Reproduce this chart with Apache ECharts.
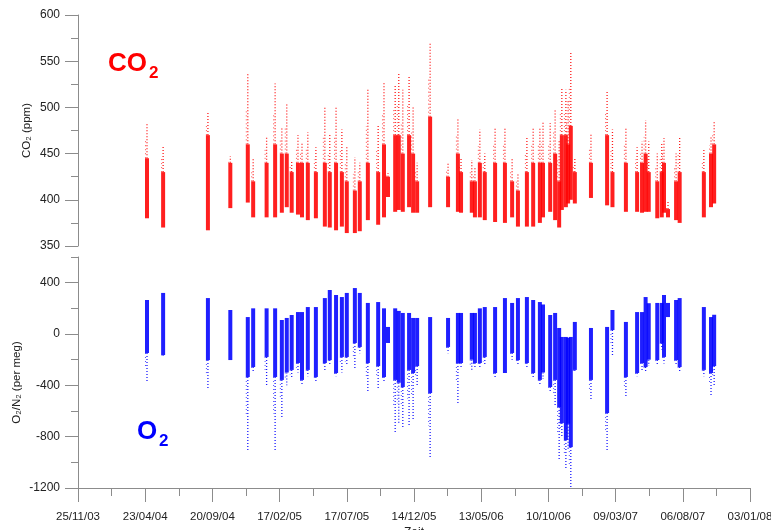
<!DOCTYPE html>
<html>
<head>
<meta charset="utf-8">
<script src="https://cdn.jsdelivr.net/npm/echarts@6/dist/echarts.min.js"></script>
<style>html,body{margin:0;padding:0;background:#fff}#c{width:771px;height:530px}</style>
</head>
<body>
<div id="c"></div>
<script>
// ---- data ----
const startDate = '2003-11-25';
const xTickLabels = ['25/11/03','23/04/04','20/09/04','17/02/05','17/07/05','14/12/05','13/05/06','10/10/06','09/03/07','06/08/07','03/01/08'];
const co2TickLabels = [350, 400, 450, 500, 550, 600];
const o2TickLabels = [-1200, -800, -400, 0, 400];

const dates = ['2004-04-27','2004-06-02','2004-09-10','2004-10-30','2004-12-08','2004-12-20','2005-01-19','2005-02-07','2005-02-22','2005-03-05',
'2005-03-16','2005-03-30','2005-04-08','2005-04-21','2005-05-09','2005-05-29','2005-06-09','2005-06-23','2005-07-06','2005-07-17',
'2005-08-04','2005-08-15','2005-09-02','2005-09-25','2005-10-08','2005-10-17','2005-11-02','2005-11-10','2005-11-19','2005-12-03',
'2005-12-12','2005-12-21','2006-01-19','2006-02-28','2006-03-22','2006-03-29','2006-04-22','2006-04-29','2006-05-10','2006-05-21',
'2006-06-13','2006-07-05','2006-07-21','2006-08-03','2006-08-23','2006-09-06','2006-09-21','2006-09-28','2006-10-14','2006-10-25',
'2006-11-03','2006-11-09','2006-11-18','2006-11-23','2006-11-29','2006-12-08','2007-01-13','2007-02-18','2007-03-02','2007-04-01',
'2007-04-26','2007-05-07','2007-05-15','2007-05-22','2007-06-10','2007-06-20','2007-06-25','2007-07-04','2007-07-22','2007-07-30',
'2007-09-22','2007-10-08','2007-10-15'];

// CO2 (ppm): lowest value, top of dense band, highest value
const co2Low = [380,370,367,391,397,381,381,381,386,392, 386,384,381,378,380,371,370,367,371,364,
364,366,378,373,381,403,387,389,387,392, 386,386,392,392,387,386,386,381,381,378,
376,375,381,371,371,371,375,381,387,378, 370,389,392,396,400,396,402,394,392,387,
387,386,387,387,380,381,386,381,378,375, 381,392,396];
const co2Core = [445,430,470,440,460,420,440,460,450,450, 430,440,440,440,430,440,430,440,430,420,
410,420,440,430,460,425,470,470,450,470, 450,420,490,425,450,430,420,420,440,430,
440,440,420,410,430,440,440,440,440,450, 420,470,470,460,480,430,440,470,430,440,
430,440,450,430,420,430,440,390,420,430, 430,450,460];
const co2High = [484,459,494,447,538,445,468,526,479,505, 443,470,461,473,457,500,470,500,476,457,
446,440,519,481,527,429,524,538,519,533, 500,440,570,440,488,446,443,436,476,450,
479,479,446,429,468,479,478,484,483,497, 465,522,519,508,560,446,472,517,476,478,
457,463,486,463,450,461,467,398,450,467, 454,468,486];

// O2/N2 (per meg): highest value, bottom of dense band, lowest value
const o2High = [265,320,280,187,132,200,200,200,109,125, 148,171,171,210,210,280,343,304,288,320,
358,320,242,249,200,55,200,180,164,164, 125,125,132,125,164,164,164,164,200,210,
210,280,242,280,288,265,249,230,148,164, 47,-23,-23,-30,-23,94,47,55,187,94,
171,171,288,240,242,242,304,242,265,280, 210,132,150];
const o2Core = [-148,-164,-203,-203,-335,-257,-179,-335,-358,-300, -280,-226,-358,-280,-335,-226,-203,-304,-179,-179,
-70,-101,-226,-250,-335,-70,-358,-380,-413,-280, -304,-250,-460,-101,-226,-226,-200,-226,-226,-179,
-304,-304,-148,-203,-226,-304,-358,-300,-413,-358, -569,-694,-826,-700,-881,-280,-358,-616,31,-335,
-304,-226,-257,-200,-203,-70,-179,132,-203,-257, -280,-304,-250];
const o2Low = [-374,-170,-421,-203,-920,-300,-397,-904,-647,-400, -350,-300,-400,-330,-380,-280,-250,-330,-300,-250,
-280,-150,-460,-436,-380,-70,-771,-700,-725,-725, -670,-400,-966,-150,-538,-260,-280,-260,-270,-250,
-340,-304,-200,-240,-270,-340,-400,-350,-450,-569, -982,-800,-1060,-900,-1192,-300,-514,-904,-180,-491,
-330,-280,-300,-250,-250,-120,-230,132,-250,-290, -330,-491,-400];

// ---- build ----
const DAY = 86400000;
const t0 = Date.parse(startDate + 'T00:00:00Z');
const dayOf = d => Math.round((Date.parse(d + 'T00:00:00Z') - t0) / DAY);
const co2Data = dates.map((d, i) => [dayOf(d), co2Low[i], co2Core[i], co2High[i]]);
const o2Data = dates.map((d, i) => [dayOf(d), o2High[i], o2Core[i], o2Low[i]]);

const RED = '#ff0000', BLUE = '#0000ff';
const AX = '#8c8c8c', TXT = '#222';
const FONT = 'Liberation Sans, Arial, sans-serif';

function streak(color) {
  return function (params, api) {
    const x = api.value(0);
    const a = api.coord([x, api.value(1)]);
    const b = api.coord([x, api.value(2)]);
    const c = api.coord([x, api.value(3)]);
    const px = a[0];
    const top = Math.min(a[1], b[1]), bot = Math.max(a[1], b[1]);
    return {
      type: 'group',
      children: [
        { type: 'line', shape: { x1: px, y1: b[1], x2: px, y2: c[1] },
          style: { stroke: color, lineWidth: 1.3, lineDash: [1, 2], opacity: 0.9 } },
        { type: 'line', shape: { x1: px - 1.5, y1: b[1], x2: px - 1.5, y2: (b[1] + c[1]) / 2 },
          style: { stroke: color, lineWidth: 1, lineDash: [1, 3], opacity: 0.7 } },
        { type: 'rect', shape: { x: px - 2, y: top, width: 4, height: Math.max(1, bot - top) },
          style: { fill: color, opacity: 0.88 } }
      ]
    };
  };
}

const chart = echarts.init(document.getElementById('c'), null, { renderer: 'canvas' });
const axisLineStyle = { show: true, onZero: false, lineStyle: { color: AX, width: 1 } };
chart.setOption({
  animation: false,
  backgroundColor: '#fff',
  textStyle: { fontFamily: FONT },
  grid: [
    { left: 78, width: 672, top: 15, height: 231, containLabel: false, outerBoundsMode: 'none' },
    { left: 78, width: 672, top: 257, height: 231, containLabel: false, outerBoundsMode: 'none' }
  ],
  xAxis: [
    { gridIndex: 0, type: 'value', min: 0, max: 1500, interval: 150, show: false },
    { gridIndex: 1, type: 'value', min: 0, max: 1500, interval: 150, position: 'bottom',
      name: 'Zeit', nameLocation: 'middle', nameGap: 39, nameMoveOverlap: false,
      nameTextStyle: { color: TXT, fontSize: 12, fontFamily: FONT },
      axisLine: axisLineStyle,
      axisTick: { show: true, length: 14, lineStyle: { color: AX } },
      minorTick: { show: true, splitNumber: 2, length: 8, lineStyle: { color: AX } },
      splitLine: { show: false },
      axisLabel: { color: TXT, fontSize: 11.5, margin: 23, fontFamily: FONT,
        formatter: v => xTickLabels[Math.round(v / 150)] || '' } }
  ],
  yAxis: [
    { gridIndex: 0, type: 'value', min: 350, max: 600, interval: 50, position: 'left',
      name: 'CO₂ (ppm)', nameLocation: 'middle', nameGap: 45, nameMoveOverlap: false,
      nameTextStyle: { color: TXT, fontSize: 11.5, fontFamily: FONT },
      axisLine: axisLineStyle,
      axisTick: { show: true, length: 13, lineStyle: { color: AX } },
      minorTick: { show: true, splitNumber: 2, length: 7, lineStyle: { color: AX } },
      splitLine: { show: false },
      axisLabel: { color: TXT, fontSize: 12, margin: 18, fontFamily: FONT,
        formatter: v => co2TickLabels.indexOf(v) >= 0 ? String(v) : '' } },
    { gridIndex: 1, type: 'value', min: -1200, max: 600, interval: 200, position: 'left',
      name: 'O₂/N₂ (per meg)', nameLocation: 'middle', nameGap: 55, nameMoveOverlap: false,
      nameTextStyle: { color: TXT, fontSize: 11.5, fontFamily: FONT, padding: [0, 20, 0, 0] },
      axisLine: axisLineStyle,
      axisTick: { show: true, length: 7, lineStyle: { color: AX } },
      splitLine: { show: false },
      axisLabel: { color: TXT, fontSize: 12, margin: 18, fontFamily: FONT,
        formatter: v => o2TickLabels.indexOf(v) >= 0 ? String(v) : '' } },
    { gridIndex: 1, type: 'value', min: -1200, max: 600, interval: 200, position: 'left', offset: 0,
      axisLine: { show: false, onZero: false },
      axisTick: { show: true, length: 13, lineStyle: { color: AX }, customValues: o2TickLabels },
      splitLine: { show: false },
      axisLabel: { show: false } }
  ],
  graphic: [
    { type: 'text', left: 108, top: 51, style: { text: 'CO', fill: RED, font: 'bold 26px ' + FONT } },
    { type: 'text', left: 149, top: 65, style: { text: '2', fill: RED, font: 'bold 17px ' + FONT } },
    { type: 'text', left: 137, top: 419, style: { text: 'O', fill: BLUE, font: 'bold 26px ' + FONT } },
    { type: 'text', left: 159, top: 433, style: { text: '2', fill: BLUE, font: 'bold 17px ' + FONT } }
  ],
  series: [
    { type: 'custom', name: 'CO2', xAxisIndex: 0, yAxisIndex: 0, clip: true,
      renderItem: streak(RED), encode: { x: 0, y: [1, 2, 3] }, data: co2Data },
    { type: 'custom', name: 'O2', xAxisIndex: 1, yAxisIndex: 1, clip: true,
      renderItem: streak(BLUE), encode: { x: 0, y: [1, 2, 3] }, data: o2Data }
  ]
});
</script>
</body>
</html>
